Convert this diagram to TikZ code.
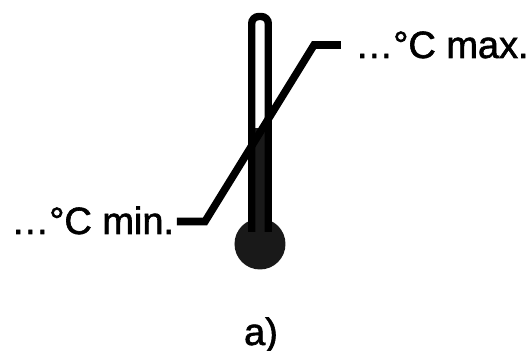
\documentclass[tikz,border=0pt]{standalone}
\usepackage{fontspec}
\setmainfont{Liberation Sans}
\newfontfamily\labelfont[FakeBold=1.6]{Liberation Sans}

\tikzset{
    tubeline/.style={line width=4.2pt, black, rounded corners=4pt},
    leadline/.style={line width=4.3pt, black, line join=miter},
    labeltext/.style={font=\fontsize{21.6}{24}\labelfont, inner sep=0pt, text=black},
}

\begin{document}
\begin{tikzpicture}[x=0.02cm, y=-0.02cm]
    \useasboundingbox (0,0) rectangle (529,351);
    % Below draws the thermometer.
        \fill[black!90] (260,244) circle (25.5);
        \fill[black!90] (251,128) rectangle (269,235);
        \draw[tubeline] (251.7,232) -- (251.7,16.5) -- (268.3,16.5) -- (268.3,232);
    % This draws the leader line.
        \coordinate (leadmax) at (341,45);
        \coordinate (kneemax) at (314,45);
        \coordinate (kneemin) at (205,221.5);
        \coordinate (leadmin) at (177,221.5);
        \draw[leadline] (leadmax) -- (kneemax) -- (kneemin) -- (leadmin);
    % Below nodes are the labels.
        \node[labeltext, anchor=base west] (maxlabel) at (355,58) {\ldots °C max.};
        \node[labeltext, anchor=base west] (minlabel) at (11,234) {\ldots °C min.};
        \node[labeltext, anchor=base] (caption) at (261,345) {a)};
\end{tikzpicture}
\end{document}
